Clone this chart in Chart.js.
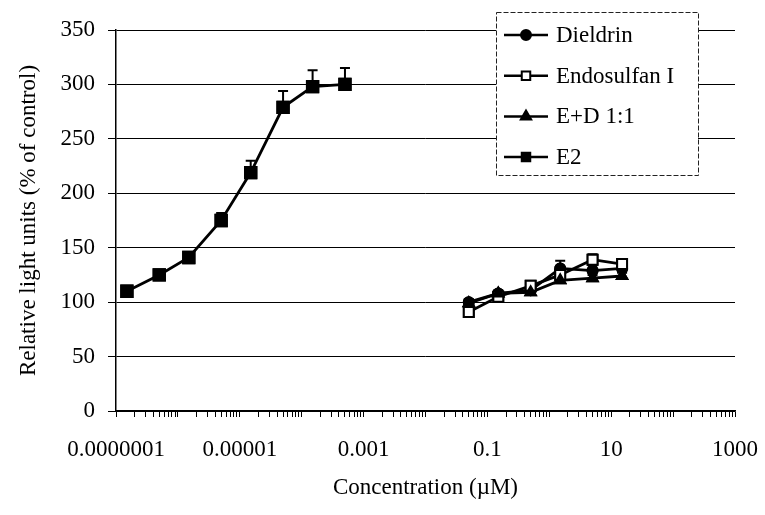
<!DOCTYPE html>
<html lang="en">
<head>
    <meta charset="UTF-8">
    <title>Relative light units vs concentration</title>
    <script src="https://cdn.jsdelivr.net/npm/chart.js"></script>
    <style>
        body {
            margin: 0;
            padding: 0;
            background-color: #ffffff;
        }

        #wrap {
            position: relative;
            width: 765px;
            height: 515px;
        }
    </style>
</head>
<body>

    <div id="wrap">
        <canvas id="doseChart"></canvas>
    </div>

    <script>
        // concentrations in uM
        const e2Conc = [1.5e-7, 5e-7, 1.5e-6, 5e-6, 1.5e-5, 5e-5, 1.5e-4, 5e-4];
        const e2Values = [110, 125, 141, 175, 219, 279, 298, 300];
        const e2Errors = [2, 2, 2, 7, 11, 15, 15, 15];

        const pestConc = [0.05, 0.15, 0.5, 1.5, 5, 15];
        const dieldrinValues = [100, 108, 111, 131, 129, 131];
        const dieldrinErrors = [3, 3, 3, 7, 5, 3];
        const endosulfanValues = [91, 105, 115, 125, 139, 135];
        const endosulfanErrors = [3, 3, 3, 4, 5, 3];
        const edValues = [99, 108, 109, 120, 122, 124];
        const edErrors = [2, 2, 2, 3, 3, 3];

        const seriesNames = ['Dieldrin', 'Endosulfan I', 'E+D 1:1', 'E2'];

        const xTickValues = [1e-7, 1e-5, 1e-3, 0.1, 10, 1000];
        const xTickLabels = ['0.0000001', '0.00001', '0.001', '0.1', '10', '1000'];
        const yTicks = [0, 50, 100, 150, 200, 250, 300, 350];

        const FONT = 'Liberation Serif, Times New Roman, serif';

        function toPoints(xs, ys) {
            return xs.map((x, i) => ({ x: x, y: ys[i] }));
        }

        const errorSets = [dieldrinErrors, endosulfanErrors, edErrors, e2Errors];

        // upper error bars, markers redrawn on top
        const errorBars = {
            id: 'errorBars',
            afterDatasetsDraw(chart) {
                const ctx = chart.ctx;
                const yScale = chart.scales.y;
                ctx.save();
                ctx.strokeStyle = '#000';
                ctx.lineWidth = 2;
                chart.data.datasets.forEach((ds, di) => {
                    const meta = chart.getDatasetMeta(di);
                    const errs = errorSets[di];
                    meta.data.forEach((pt, i) => {
                        const top = yScale.getPixelForValue(ds.data[i].y + errs[i]);
                        ctx.beginPath();
                        ctx.moveTo(pt.x, pt.y);
                        ctx.lineTo(pt.x, top);
                        ctx.moveTo(pt.x - 5, top);
                        ctx.lineTo(pt.x + 5, top);
                        ctx.stroke();
                    });
                });
                ctx.restore();
                chart.data.datasets.forEach((ds, di) => {
                    const meta = chart.getDatasetMeta(di);
                    meta.data.forEach(pt => pt.draw(ctx, chart.chartArea));
                });
            }
        };

        // boxed legend inside the plot, top right
        const boxLegend = {
            id: 'boxLegend',
            afterDraw(chart) {
                const ctx = chart.ctx;
                const left = 496, top = 12, w = 202, h = 163;
                ctx.save();
                ctx.fillStyle = '#fff';
                ctx.fillRect(left, top, w, h);
                ctx.setLineDash([5, 2]);
                ctx.strokeStyle = '#222';
                ctx.lineWidth = 1;
                ctx.strokeRect(left + 0.5, top + 0.5, w, h);
                ctx.setLineDash([]);
                ctx.font = '23px ' + FONT;
                ctx.textBaseline = 'middle';
                chart.data.datasets.forEach((ds, i) => {
                    const y = 35 + i * 40.7;
                    ctx.strokeStyle = '#000';
                    ctx.lineWidth = 2.5;
                    ctx.beginPath();
                    ctx.moveTo(504, y);
                    ctx.lineTo(548, y);
                    ctx.stroke();
                    ctx.fillStyle = ds.pointBackgroundColor;
                    ctx.lineWidth = 2;
                    Chart.helpers.drawPoint(ctx, {
                        pointStyle: ds.pointStyle,
                        radius: ds.legendRadius,
                        borderWidth: 2,
                        rotation: 0
                    }, 526, y);
                    ctx.fillStyle = '#000';
                    ctx.fillText(ds.label, 556, y + 1);
                });
                ctx.restore();
            }
        };

        function pointStyleOpts(style, radius, fill) {
            return {
                pointStyle: style,
                pointRadius: radius,
                pointHoverRadius: radius,
                pointBackgroundColor: fill,
                pointBorderColor: '#000',
                pointBorderWidth: 2
            };
        }

        const ctx = document.getElementById('doseChart').getContext('2d');
        const doseChart = new Chart(ctx, {
            type: 'scatter',
            data: {
                datasets: [
                    Object.assign({ label: seriesNames[0], data: toPoints(pestConc, dieldrinValues), legendRadius: 5,
                        showLine: true, borderColor: '#000', borderWidth: 2.8, fill: false }, pointStyleOpts('circle', 5, '#000')),
                    Object.assign({ label: seriesNames[1], data: toPoints(pestConc, endosulfanValues), legendRadius: 6,
                        showLine: true, borderColor: '#000', borderWidth: 2.8, fill: false }, pointStyleOpts('rect', 7, '#fff')),
                    Object.assign({ label: seriesNames[2], data: toPoints(pestConc, edValues), legendRadius: 6,
                        showLine: true, borderColor: '#000', borderWidth: 2.8, fill: false }, pointStyleOpts('triangle', 6, '#000')),
                    Object.assign({ label: seriesNames[3], data: toPoints(e2Conc, e2Values), legendRadius: 6,
                        showLine: true, borderColor: '#000', borderWidth: 2.8, fill: false }, pointStyleOpts('rect', 8, '#000'))
                ]
            },
            options: {
                responsive: true,
                maintainAspectRatio: false,
                animation: false,
                layout: { padding: { top: 30, right: 30, bottom: 0, left: 0 } },
                plugins: {
                    legend: { display: false },
                    tooltip: { enabled: false }
                },
                scales: {
                    x: {
                        type: 'logarithmic',
                        min: 1e-7,
                        max: 1000,
                        afterBuildTicks: scale => {
                            const ticks = [];
                            for (let e = -7; e <= 3; e++) {
                                for (let m = 1; m <= 9; m++) {
                                    if (e === 3 && m > 1) break;
                                    ticks.push({ value: m * Math.pow(10, e) });
                                }
                            }
                            scale.ticks = ticks;
                        },
                        afterFit: scale => {
                            scale.height = 104;
                            scale.paddingLeft = 0;
                            scale.paddingRight = 0;
                        },
                        ticks: {
                            autoSkip: false,
                            maxRotation: 0,
                            color: '#000',
                            padding: 19,
                            font: { family: FONT, size: 23 },
                            callback: value => {
                                const idx = xTickValues.findIndex(v => Math.abs(Math.log10(v) - Math.log10(value)) < 1e-6);
                                return idx >= 0 ? xTickLabels[idx] : '';
                            }
                        },
                        grid: { drawOnChartArea: false, color: '#000', tickLength: 6 },
                        border: { color: '#000', width: 1.5 },
                        title: {
                            display: true,
                            text: 'Concentration (\u00b5M)',
                            color: '#000',
                            font: { family: FONT, size: 23 },
                            padding: { top: 0, bottom: 13 }
                        }
                    },
                    y: {
                        min: 0,
                        max: 350,
                        afterBuildTicks: scale => {
                            scale.ticks = yTicks.map(v => ({ value: v }));
                        },
                        afterFit: scale => { scale.width = 116; },
                        ticks: {
                            color: '#000',
                            padding: 13,
                            font: { family: FONT, size: 23 }
                        },
                        grid: { color: '#000', lineWidth: 1, tickLength: 8 },
                        border: { color: '#000', width: 1.5 },
                        title: {
                            display: true,
                            text: 'Relative light units (% of control)',
                            color: '#000',
                            font: { family: FONT, size: 23 },
                            padding: { top: 15, bottom: 0 }
                        }
                    }
                }
            },
            plugins: [errorBars, boxLegend]
        });
    </script>

</body>
</html>
